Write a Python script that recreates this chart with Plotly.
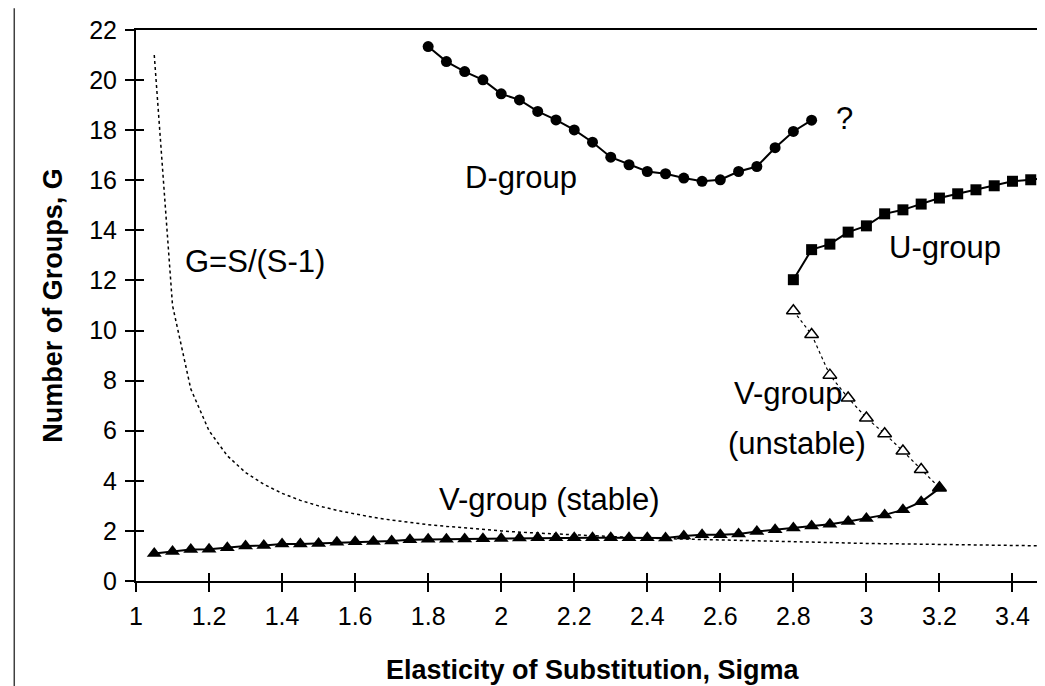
import plotly.graph_objects as go

# ---------------- data ----------------
d_sigma = [1.80, 1.85, 1.90, 1.95, 2.00, 2.05, 2.10, 2.15, 2.20, 2.25, 2.30,
           2.35, 2.40, 2.45, 2.50, 2.55, 2.60, 2.65, 2.70, 2.75, 2.80, 2.85]
d_groups = [21.34, 20.74, 20.34, 20.01, 19.45, 19.21, 18.75, 18.41, 18.01, 17.52, 16.92,
            16.62, 16.35, 16.26, 16.09, 15.96, 16.02, 16.35, 16.55, 17.30, 17.95, 18.40]

u_sigma = [2.80, 2.85, 2.90, 2.95, 3.00, 3.05, 3.10, 3.15, 3.20, 3.25, 3.30,
           3.35, 3.40, 3.45, 3.50]
u_groups = [12.03, 13.23, 13.45, 13.93, 14.18, 14.66, 14.82, 15.05, 15.29, 15.46, 15.62,
            15.78, 15.96, 16.02, 16.11]

vu_sigma = [2.80, 2.85, 2.90, 2.95, 3.00, 3.05, 3.10, 3.15, 3.20]
vu_groups = [10.79, 9.84, 8.22, 7.31, 6.51, 5.88, 5.19, 4.45, 3.72]

vs_sigma = [1.05, 1.10, 1.15, 1.20, 1.25, 1.30, 1.35, 1.40, 1.45, 1.50, 1.55,
            1.60, 1.65, 1.70, 1.75, 1.80, 1.85, 1.90, 1.95, 2.00, 2.05, 2.10,
            2.15, 2.20, 2.25, 2.30, 2.35, 2.40, 2.45, 2.50, 2.55, 2.60, 2.65,
            2.70, 2.75, 2.80, 2.85, 2.90, 2.95, 3.00, 3.05, 3.10, 3.15, 3.20]
vs_groups = [1.10, 1.18, 1.26, 1.27, 1.33, 1.40, 1.42, 1.48, 1.48, 1.50, 1.55,
             1.57, 1.58, 1.60, 1.65, 1.67, 1.67, 1.68, 1.69, 1.70, 1.72, 1.73,
             1.73, 1.73, 1.73, 1.73, 1.73, 1.73, 1.72, 1.80, 1.85, 1.85, 1.88,
             1.98, 2.05, 2.12, 2.20, 2.27, 2.38, 2.50, 2.64, 2.84, 3.16, 3.70]

g_sigma = [1.05, 1.10, 1.15, 1.20, 1.25, 1.30, 1.35, 1.40, 1.45, 1.50, 1.55,
           1.60, 1.65, 1.70, 1.75, 1.80, 1.85, 1.90, 1.95, 2.00, 2.05, 2.10,
           2.15, 2.20, 2.25, 2.30, 2.35, 2.40, 2.45, 2.50, 2.55, 2.60, 2.65,
           2.70, 2.75, 2.80, 2.85, 2.90, 2.95, 3.00, 3.05, 3.10, 3.15, 3.20,
           3.25, 3.30, 3.35, 3.40, 3.45, 3.50]
g_groups = [21.00, 11.00, 7.67, 6.00, 5.00, 4.33, 3.86, 3.50, 3.22, 3.00, 2.82,
            2.67, 2.54, 2.43, 2.33, 2.25, 2.18, 2.11, 2.05, 2.00, 1.95, 1.91,
            1.87, 1.83, 1.80, 1.77, 1.74, 1.71, 1.69, 1.67, 1.65, 1.63, 1.61,
            1.59, 1.57, 1.56, 1.54, 1.53, 1.51, 1.50, 1.49, 1.48, 1.47, 1.45,
            1.44, 1.43, 1.43, 1.42, 1.41, 1.40]

x_range = [1, 3.5]
y_range = [0, 22]

FONT = "Liberation Sans, Arial, sans-serif"

fig = go.Figure()

# G = S/(S-1) dotted curve
fig.add_trace(go.Scatter(x=g_sigma, y=g_groups, mode="lines",
                         line=dict(color="black", width=1.5, dash="3px,3px"),
                         hoverinfo="skip", showlegend=False))

# V-group unstable (open triangles, dotted)
fig.add_trace(go.Scatter(x=vu_sigma, y=vu_groups, mode="lines+markers",
                         line=dict(color="black", width=1.2, dash="3px,3px"),
                         marker=dict(symbol="triangle-up", size=12, color="white",
                                     line=dict(color="black", width=1.5)),
                         showlegend=False))

# V-group stable (filled triangles)
fig.add_trace(go.Scatter(x=vs_sigma, y=vs_groups, mode="lines+markers",
                         line=dict(color="black", width=2),
                         marker=dict(symbol="triangle-up", size=13, color="black"),
                         showlegend=False))

# D-group (circles)
fig.add_trace(go.Scatter(x=d_sigma, y=d_groups, mode="lines+markers",
                         line=dict(color="black", width=2),
                         marker=dict(symbol="circle", size=11, color="black"),
                         showlegend=False))

# U-group (squares)
fig.add_trace(go.Scatter(x=u_sigma, y=u_groups, mode="lines+markers",
                         line=dict(color="black", width=2),
                         marker=dict(symbol="square", size=11, color="black"),
                         showlegend=False))

# invisible trace for the overlay axes (inside half of the cross ticks)
fig.add_trace(go.Scatter(x=[None], y=[None], xaxis="x2", yaxis="y2",
                         showlegend=False, hoverinfo="skip"))

axis_common = dict(showgrid=False, zeroline=False, showline=True,
                   linecolor="black", linewidth=2, mirror=True,
                   ticks="outside", ticklen=9, tickwidth=1.5, tickcolor="black",
                   tickfont=dict(family=FONT, size=25, color="black"))

fig.update_layout(
    width=1045, height=686,
    margin=dict(l=128, r=2, t=22, b=113),
    paper_bgcolor="white", plot_bgcolor="white",
    xaxis=dict(range=x_range, tick0=1, dtick=0.2, ticklabelstandoff=3, **axis_common),
    yaxis=dict(range=y_range, tick0=0, dtick=2, ticklabelstandoff=3, **axis_common),
    xaxis2=dict(range=x_range, tick0=1, dtick=0.2, overlaying="x", anchor="y2",
                side="bottom", showgrid=False, zeroline=False, showline=False,
                ticks="inside", ticklen=8, tickwidth=1.5, tickcolor="black",
                showticklabels=False),
    yaxis2=dict(range=y_range, tick0=0, dtick=2, overlaying="y", anchor="x2",
                side="left", showgrid=False, zeroline=False, showline=False,
                ticks="inside", ticklen=8, tickwidth=1.5, tickcolor="black",
                showticklabels=False),
    showlegend=False,
)

txt = dict(family=FONT, size=31, color="black")
labels = [
    ("D-group", 2.053, 16.10),
    ("?", 2.94, 18.45),
    ("U-group", 3.216, 13.33),
    ("G=S/(S-1)", 1.326, 12.76),
    ("V-group", 2.786, 7.47),
    ("(unstable)", 2.811, 5.48),
    ("V-group (stable)", 2.132, 3.24),
]
for t, x, y in labels:
    fig.add_annotation(text=t, x=x, y=y, xref="x", yref="y", showarrow=False,
                       xanchor="center", yanchor="middle", font=txt)

title_font = dict(family=FONT, size=27, color="black")
fig.add_annotation(text="<b>Elasticity of Substitution, Sigma</b>", xref="paper", yref="paper",
                   x=0.5, y=(573.3 - 662) / 551.6, showarrow=False,
                   xanchor="center", yanchor="middle", font=title_font)
fig.add_annotation(text="<b>Number of Groups, G</b>", xref="paper", yref="paper",
                   x=(44 - 128) / 915, y=0.5, textangle=-90, showarrow=False,
                   xanchor="center", yanchor="middle", font=title_font)

# left border of the chart area
fig.add_shape(type="line", xref="paper", yref="paper",
              x0=(6 - 128) / 915, x1=(6 - 128) / 915,
              y0=(573.3 - 686) / 551.6, y1=573.3 / 551.6,
              line=dict(color="#404040", width=1.5))

fig.write_html("out.html")
